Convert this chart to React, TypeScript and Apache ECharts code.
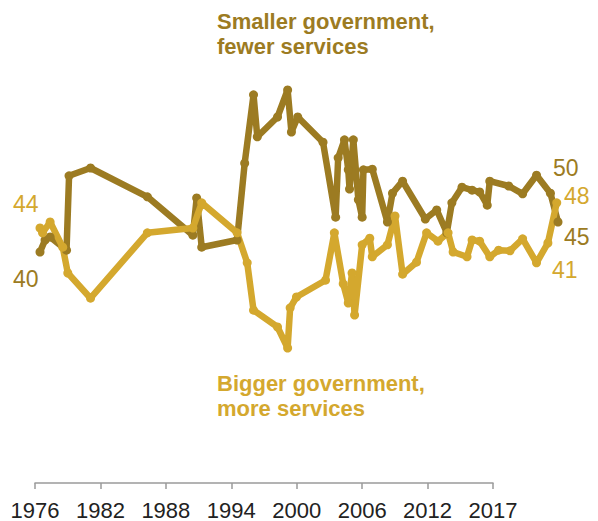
import React, { useEffect, useRef } from "react";
import * as echarts from "echarts";

// Smaller government, fewer services
const smallerYears = [
  1976.0, 1976.4, 1976.8, 1978.1, 1978.3, 1980.0, 1984.5, 1988.1, 1988.4, 1988.8,
  1991.6, 1992.2, 1992.9, 1993.2, 1994.8, 1995.6, 1995.9, 1996.4, 1998.4, 1999.4,
  1999.6, 2000.1, 2000.4, 2000.5, 2000.8, 2001.2, 2001.5, 2001.6, 2002.3, 2003.5,
  2003.9, 2004.7, 2006.5, 2007.4, 2008.2, 2008.6, 2009.4, 2010.2, 2010.8, 2011.4,
  2011.6, 2013.1, 2014.2, 2015.3, 2016.4, 2017.0,
];
const smallerValues = [
  40.0, 42.0, 42.5, 40.3, 52.7, 54.0, 49.2, 42.8, 49.0, 40.8,
  42.0, 54.8, 66.2, 59.2, 62.5, 67.0, 60.0, 62.5, 58.3, 45.8,
  55.7, 58.7, 53.7, 50.5, 58.7, 48.7, 45.8, 53.7, 53.8, 45.0,
  49.8, 51.8, 45.5, 47.0, 43.2, 48.2, 50.8, 50.3, 50.0, 47.8,
  51.8, 51.0, 49.7, 52.8, 49.8, 45.0,
];

// Bigger government, more services
const biggerYears = [
  1976.0, 1976.2, 1976.8, 1977.8, 1978.2, 1980.0, 1984.5, 1988.1, 1988.8, 1991.6,
  1992.4, 1992.9, 1994.8, 1995.6, 1995.8, 1996.3, 1998.6, 1999.3, 2000.0, 2000.4,
  2000.7, 2000.9, 2001.5, 2002.1, 2002.3, 2003.5, 2004.1, 2004.7, 2005.8, 2006.6,
  2007.5, 2008.3, 2008.7, 2009.8, 2010.2, 2010.8, 2011.6, 2012.3, 2013.2, 2014.2,
  2015.3, 2016.2, 2016.9,
];
const biggerValues = [
  44.0, 43.2, 45.0, 40.8, 36.5, 32.3, 43.2, 44.0, 48.2, 43.2,
  38.2, 30.3, 27.5, 24.0, 30.7, 32.5, 35.3, 43.2, 34.7, 31.5,
  36.5, 29.5, 41.2, 42.3, 39.2, 41.2, 46.0, 36.3, 38.3, 43.2,
  41.8, 43.2, 40.0, 39.2, 42.0, 41.8, 39.2, 40.3, 40.2, 42.2,
  38.2, 41.5, 48.2,
];

const tickPositions = [1976, 1982, 1988, 1994, 2000, 2006, 2012, 2018];
const tickLabels = ["1976", "1982", "1988", "1994", "2000", "2006", "2012", "2017"];

const DARK = "#9C7B22";
const LIGHT = "#D4A82E";
const FONT = "'Liberation Sans', Arial, sans-serif";

export default function App() {
  const ref = useRef<HTMLDivElement>(null);

  useEffect(() => {
    if (!ref.current) return;
    const chart = echarts.init(ref.current, null, { renderer: "svg" });

    const numLabel = (text: string, x: number, y: number, color: string) => ({
      type: "text",
      x,
      y,
      style: {
        text,
        fill: color,
        font: `23px ${FONT}`,
        align: "left",
        verticalAlign: "middle",
      },
    });

    chart.setOption({
      animation: false,
      grid: [
        { left: 35, width: 458, top: 72, bottom: 38 },
        { left: 40, width: 518, top: 72, height: 300 },
      ],
      xAxis: [
        {
          gridIndex: 0,
          type: "value",
          min: 1976,
          max: 2018,
          interval: 6,
          axisLine: { show: true, lineStyle: { color: "#9a9a9a", width: 1.5 } },
          axisTick: { show: true, length: 6, lineStyle: { color: "#9a9a9a", width: 1.5 } },
          splitLine: { show: false },
          axisLabel: {
            margin: 16,
            color: "#222",
            fontSize: 22,
            fontFamily: FONT,
            formatter: (v: number) => {
              const i = tickPositions.indexOf(v);
              return i >= 0 ? tickLabels[i] : "";
            },
          },
        },
        {
          gridIndex: 1,
          type: "value",
          min: 1976,
          max: 2017,
          show: false,
          splitLine: { show: false },
        },
      ],
      yAxis: [
        { gridIndex: 0, type: "value", show: false, splitLine: { show: false } },
        {
          gridIndex: 1,
          type: "value",
          min: 20,
          max: 70,
          show: false,
          splitLine: { show: false },
        },
      ],
      series: [
        {
          type: "line",
          xAxisIndex: 1,
          yAxisIndex: 1,
          data: smallerYears.map((y, i) => [y, smallerValues[i]]),
          symbol: "circle",
          symbolSize: 9,
          itemStyle: { color: DARK },
          lineStyle: { color: DARK, width: 6.5, cap: "round", join: "round" },
          silent: true,
        },
        {
          type: "line",
          xAxisIndex: 1,
          yAxisIndex: 1,
          data: biggerYears.map((y, i) => [y, biggerValues[i]]),
          symbol: "circle",
          symbolSize: 9,
          itemStyle: { color: LIGHT },
          lineStyle: { color: LIGHT, width: 6.5, cap: "round", join: "round" },
          silent: true,
        },
      ],
      graphic: [
        {
          type: "text",
          x: 217,
          y: 9,
          style: {
            text: "Smaller government,\nfewer services",
            fill: DARK,
            font: `bold 22px ${FONT}`,
            lineHeight: 25,
            align: "left",
            verticalAlign: "top",
          },
        },
        {
          type: "text",
          x: 217,
          y: 371,
          style: {
            text: "Bigger government,\nmore services",
            fill: LIGHT,
            font: `bold 22px ${FONT}`,
            lineHeight: 25,
            align: "left",
            verticalAlign: "top",
          },
        },
        numLabel("44", 13, 204, LIGHT),
        numLabel("40", 13, 279, DARK),
        numLabel("50", 553, 168, DARK),
        numLabel("48", 564, 196, LIGHT),
        numLabel("45", 564, 237, DARK),
        numLabel("41", 552, 270, LIGHT),
      ],
    });

    return () => chart.dispose();
  }, []);

  return (
    <div
      ref={ref}
      style={{ position: "fixed", left: 0, top: 0, width: 598, height: 521, background: "#fff" }}
    />
  );
}
